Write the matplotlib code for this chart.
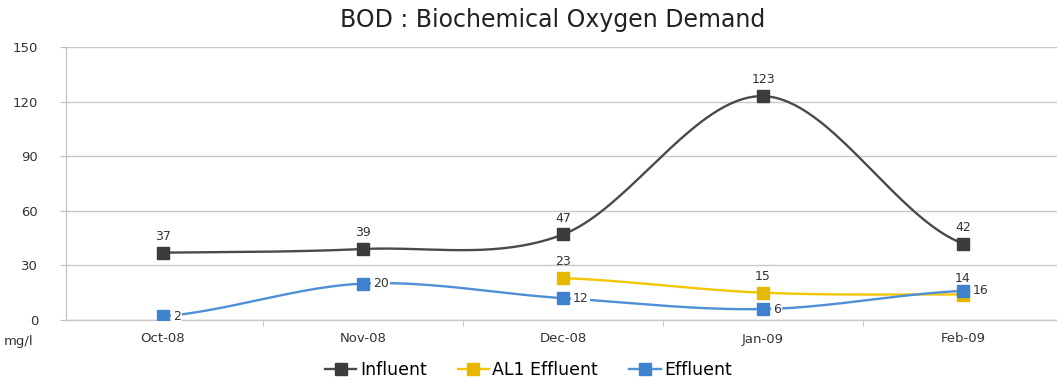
import numpy as np
import matplotlib.pyplot as plt

months = ["Oct-08", "Nov-08", "Dec-08", "Jan-09", "Feb-09"]
influent = [37, 39, 47, 123, 42]
al1_effluent = [np.nan, np.nan, 23, 15, 14]
effluent = [2, 20, 12, 6, 16]

plt.rcParams['font.family'] = ['DejaVu Sans']


def smooth(xs, ys, n=40):
    # Catmull-Rom curve through the points, like spreadsheet smoothed lines
    xs = np.asarray(xs, float)
    ys = np.asarray(ys, float)
    px = np.concatenate([[2 * xs[0] - xs[1]], xs, [2 * xs[-1] - xs[-2]]])
    py = np.concatenate([[ys[0]], ys, [ys[-1]]])
    out_x, out_y = [], []
    for i in range(1, len(px) - 2):
        t = np.linspace(0, 1, n)
        for p, out in ((px, out_x), (py, out_y)):
            p0, p1, p2, p3 = p[i - 1], p[i], p[i + 1], p[i + 2]
            out.extend(0.5 * ((2 * p1) + (-p0 + p2) * t
                              + (2 * p0 - 5 * p1 + 4 * p2 - p3) * t ** 2
                              + (-p0 + 3 * p1 - 3 * p2 + p3) * t ** 3))
    return np.array(out_x), np.array(out_y)


fig = plt.figure(figsize=(10.57, 3.83), dpi=100)
ax = fig.add_axes([66 / 1057, 1 - 320 / 383, 1 - 66 / 1057, (320 - 47) / 383])

x = np.arange(len(months))
series = [
    ("Influent", influent, "#4a4a4a", "#3c3c3c", "above"),
    ("AL1 Effluent", al1_effluent, "#f2c600", "#e6b800", "above"),
    ("Effluent", effluent, "#4f8fd6", "#3f82d0", "right"),
]

for name, vals, lc, mc, pos in series:
    vals = np.array(vals, float)
    ok = ~np.isnan(vals)
    sx, sy = smooth(x[ok], vals[ok])
    ax.plot(sx, sy, color=lc, lw=1.7, zorder=3)
    ax.plot(x[ok], vals[ok], ls="none", marker="s", ms=8.5, mfc=mc, mec=mc, zorder=4)
    ax.plot([], [], color=lc, lw=1.7, marker="s", ms=8, mfc=mc, mec=mc, label=name)
    for xi, v in zip(x[ok], vals[ok]):
        if pos == "above":
            ax.annotate(f"{v:g}", (xi, v), xytext=(0, 7), textcoords="offset points",
                        ha="center", va="bottom", fontsize=9, color="#333333", zorder=5)
        else:
            ax.annotate(f"{v:g}", (xi, v), xytext=(7, 0), textcoords="offset points",
                        ha="left", va="center", fontsize=9, color="#333333", zorder=5,
                        bbox=dict(boxstyle="square,pad=0.1", fc="white", ec="none"))

ax.set_ylim(0, 150)
ax.set_yticks([0, 30, 60, 90, 120, 150])
ax.set_xlim(-0.485, (1057 - 163) / 200)
ax.set_xticks(x)
ax.set_xticklabels(months)
ax.set_xticks(x[:-1] + 0.5, minor=True)
ax.tick_params(axis="x", which="major", length=0, pad=9, labelsize=9.5, labelcolor="#333333")
ax.tick_params(axis="x", which="minor", length=4, color="#bbbbbb", direction="out")
ax.tick_params(axis="y", length=4, color="#bbbbbb", labelsize=9.5, labelcolor="#333333", pad=16)
ax.grid(axis="y", color="#c8c8c8", lw=1)
ax.axhline(0, color="#c8c8c8", lw=1, clip_on=False, zorder=1)
ax.set_axisbelow(True)
for s in ["top", "right", "bottom"]:
    ax.spines[s].set_visible(False)
ax.spines["left"].set_color("#bbbbbb")

fig.text(19 / 1057, 1 - 341 / 383, "mg/l", fontsize=9.5, color="#333333", ha="center", va="center")
fig.text(553 / 1057, 1 - 20 / 383, "BOD : Biochemical Oxygen Demand", fontsize=17,
         color="#222222", ha="center", va="center")

fig.legend(loc="center", bbox_to_anchor=(0.5, 1 - 370 / 383), ncol=3, frameon=False,
           fontsize=12.5, handlelength=1.8, handletextpad=0.2, columnspacing=1.8)

fig.savefig("out.png", dpi=100)
